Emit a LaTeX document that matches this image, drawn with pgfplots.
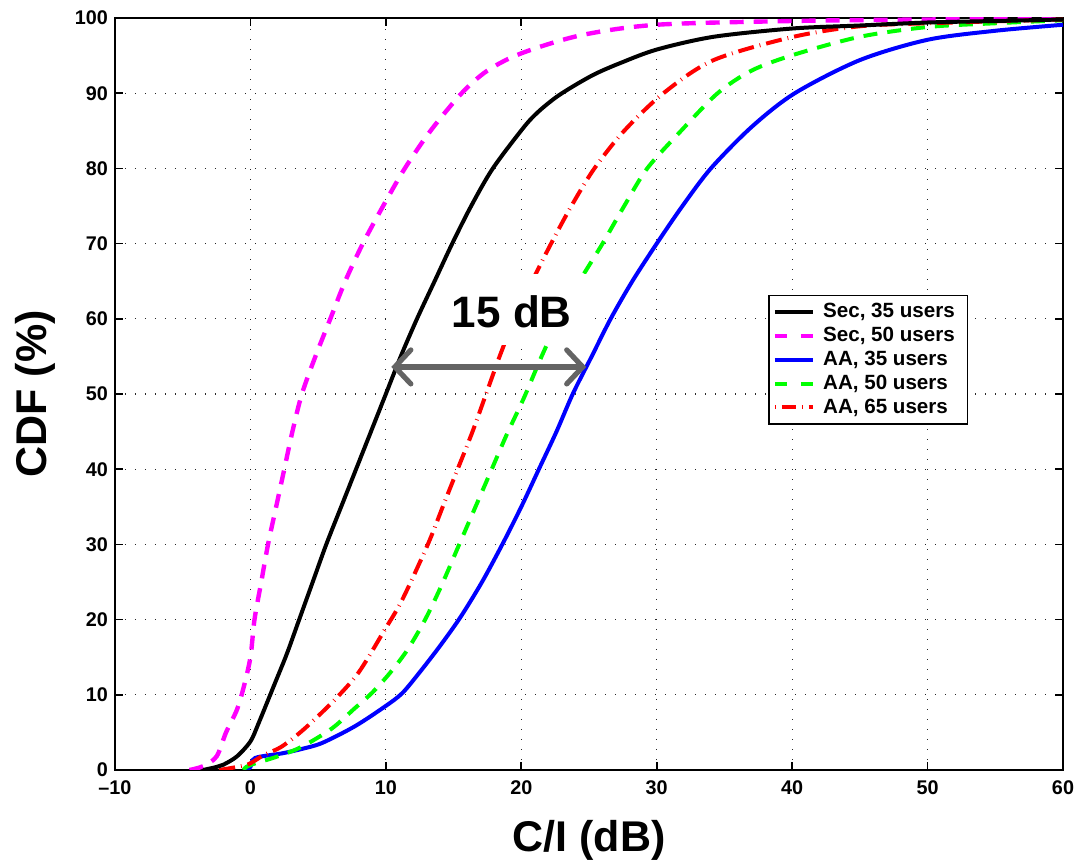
\documentclass[border=0pt]{standalone}
\usepackage{pgfplots}
\pgfplotsset{compat=1.18}
\usepackage{fontspec}
\setmainfont{Liberation Sans}
\usetikzlibrary{arrows.meta}

\definecolor{mlmag}{RGB}{255,0,255}
\definecolor{mlgrn}{RGB}{0,255,0}
\definecolor{mlblue}{RGB}{0,0,255}
\definecolor{mlred}{RGB}{255,0,0}
\definecolor{arrowgray}{RGB}{100,100,100}

\begin{document}
\begin{tikzpicture}
\begin{axis}[
  name=ax,
  scale only axis, width=474pt, height=376pt,
  xmin=-10, xmax=60, ymin=0, ymax=100,
  xtick={-10,0,10,20,30,40,50,60},
  xticklabels={–10,0,10,20,30,40,50,60},
  ytick={0,10,...,100},
  /pgf/number format/assume math mode=true,
  ticklabel style={font=\fontsize{9.9}{11}\selectfont\bfseries},
  xticklabel style={yshift=-2pt},
  grid=major,
  major grid style={line width=0.6pt, dash pattern=on 0.6pt off 4.4pt, black!85},
  axis line style={line width=1pt},
  major tick length=4pt,
  tick style={line width=0.8pt, black},
  xlabel={C/I (dB)}, ylabel={CDF (\%)},
  label style={font=\fontsize{21.5}{24}\selectfont\bfseries},
  xlabel style={at={(axis description cs:0.5,-0.093)}, anchor=center},
  ylabel style={at={(axis description cs:-0.084,0.5)}, anchor=center},
  legend style={at={(axis description cs:0.689,0.632)}, anchor=north west,
    font=\fontsize{10.3}{11}\selectfont\bfseries, draw=black, line width=0.8pt,
    inner sep=2pt, row sep=-0.8pt,
    nodes={inner xsep=4.3pt}},
  legend cell align=left,
  legend image code/.code={\draw[#1] (0cm,0cm) -- (0.66cm,0cm);},
]
% legend samples, in the order of the key
\addlegendimage{black, line width=2pt}
\addlegendimage{mlmag, line width=2pt, dash pattern=on 6pt off 7pt}
\addlegendimage{mlblue, line width=2pt}
\addlegendimage{mlgrn, line width=2pt, dash pattern=on 6pt off 7pt}
\addlegendimage{mlred, line width=2pt, dash pattern=on 0.4pt off 3pt on 7pt off 3pt}
\legend{Sec{,} 35 users, Sec{,} 50 users, AA{,} 35 users, AA{,} 50 users, AA{,} 65 users}

% Sec, 50 users
\addplot[forget plot, smooth, tension=0.5, mlmag, line width=2.2pt, dash pattern=on 7pt off 5pt] coordinates {
(-4.5,0)(-3.5,0.5)(-2.5,1.8)(-1.8,5)(-1,8)(-0.5,11)(0,15)(0.3,20)(0.8,25)(1.3,30)
(1.9,35)(2.5,40)(3.1,45)(3.8,50)(4.8,55)(5.9,60)(7,65)(8.3,70)(9.8,75)(11.4,80)
(13.3,85)(15.6,90)(17.5,93)(20,95.3)(24.4,97.7)(30,99.1)(40,99.6)(50,99.8)(60,99.9)};

% AA, 35 users
\addplot[forget plot, smooth, tension=0.5, mlblue, line width=2pt] coordinates {
(-0.3,0)(0,0.4)(0.35,1.6)(2.3,2.2)(3.8,2.8)(5.3,3.6)(7.7,5.8)(9.9,8.4)(11.2,10.2)(12.5,13)
(14,16.5)(15.5,20.3)(17.1,25)(18.6,30)(20,35)(21.3,40)(22.6,45)(23.8,50)(25.2,55)(26.6,60)
(28.2,65)(30,70)(31.9,75)(34,80)(37,85.5)(40.2,90)(45,94.4)(50,97.1)(55,98.3)(60,99.1)};

% AA, 50 users
\addplot[forget plot, smooth, tension=0.5, mlgrn, line width=2pt, dash pattern=on 7pt off 5pt] coordinates {
(-0.5,0)(-0.1,0.6)(2,1.8)(3.8,3.1)(6,5.5)(7.7,8.2)(9,10.3)(10.3,12.9)(11.6,16)(12.9,20)
(14.1,24.5)(15.3,29.5)(16.5,34.5)(17.7,39.5)(18.9,44.5)(20.2,49.5)(21.5,55)(22.8,60)(24.3,65)
(26,70)(27.6,75)(29.3,80)(31.8,85)(34.5,90)(37,93)(40.1,95.1)(45,97.5)
(50,98.8)(55,99.3)(60,99.7)};

% AA, 65 users
\addplot[forget plot, smooth, tension=0.5, mlred, line width=2pt, dash pattern=on 8pt off 3pt on 0.4pt off 3pt] coordinates {
(-2.3,0)(-1,0.4)(-0.1,0.8)(1,2)(2.3,3.1)(4,5.5)(6.2,9.3)(8,13)(9.9,18.6)(11.2,22.6)
(13.1,30)(14.2,35)(15.3,40)(16.4,45)(17.4,50)(18.4,55)(19.5,60)(20.8,65)
(22.2,70)(23.7,75)(25.4,80)(27.6,85)(30.5,90)(34.2,94.4)(40.1,97.5)(45,98.9)
(50,99.3)(60,99.8)};

% clear area behind the annotation
\fill[white] (axis cs:10,56.5) rectangle (axis cs:25.2,66);

% Sec, 35 users
\addplot[forget plot, smooth, tension=0.5, black, line width=2pt] coordinates {
(-3.5,0)(-2.5,0.4)(-2,0.7)(-1,1.8)(0,3.8)(0.6,6.2)(1.8,11.5)(2.7,15.5)(3.6,20)(4.6,25)
(5.6,30)(6.7,35)(7.8,40)(8.9,45)(10,50)(11.1,55)(12.3,60)(13.6,65)(14.9,70)(16.3,75)
(17.9,80)(20.2,85.5)(21.3,87.6)(22.6,89.5)(24,91.1)(25.5,92.6)(27.3,94)(30,95.8)(34.2,97.5)
(40,98.6)(45,99)(50,99.4)(55,99.6)(60,99.8)};

% 15 dB gap annotation
\draw[line width=2.6pt, arrowgray,
  {Straight Barb[length=8pt,width=17pt,line cap=round]}-{Straight Barb[length=8pt,width=17pt,line cap=round]}]
  (axis cs:10.4,53.6) -- (axis cs:24.8,53.6);
\node[font=\fontsize{22}{26}\selectfont\bfseries] at (axis cs:19.3,60.9) {15 dB};
\end{axis}
\pgfresetboundingbox
\path[use as bounding box] ([shift={(-57.5pt,-48pt)}]ax.south west) rectangle ([shift={(6.5pt,9pt)}]ax.north east);
\end{tikzpicture}
\end{document}
